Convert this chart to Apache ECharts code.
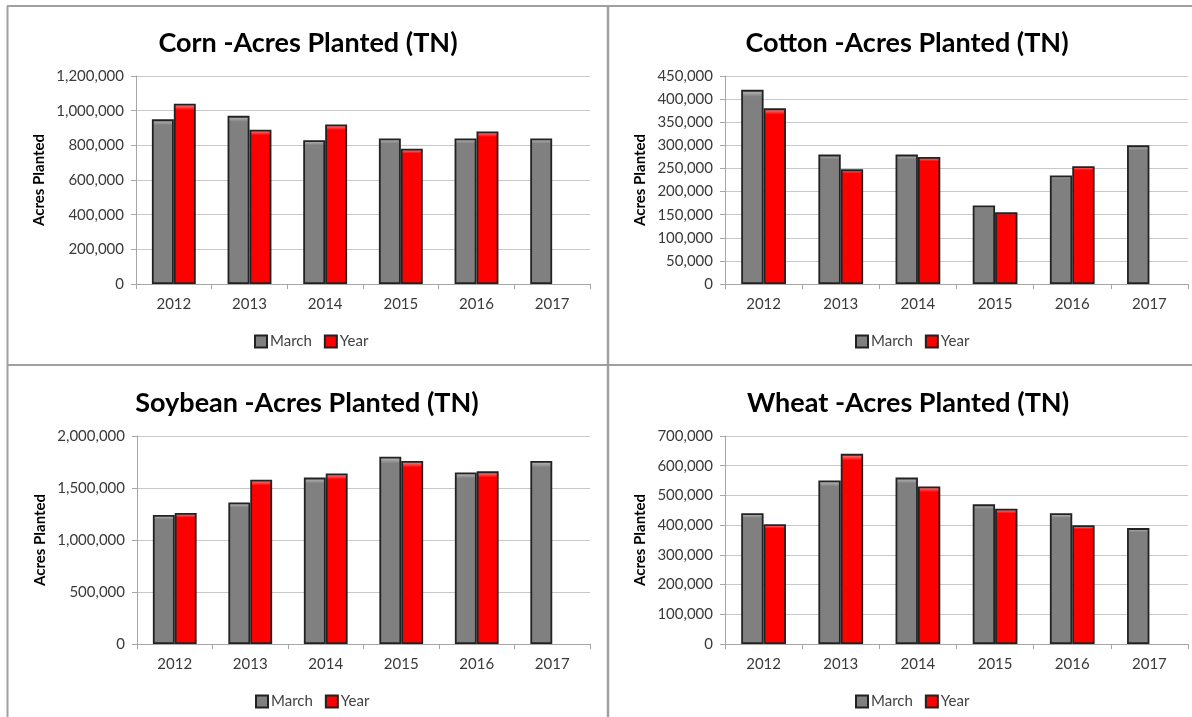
<!DOCTYPE html>
<html>
<head>
<meta charset="utf-8">
<style>
  html, body { margin: 0; padding: 0; background: #ffffff; }
  #chart { width: 1192px; height: 717px; }
</style>
<script src="https://cdn.jsdelivr.net/npm/echarts@6/dist/echarts.min.js"></script>
</head>
<body>
<div id="chart"></div>
<script>
const years = ['2012', '2013', '2014', '2015', '2016', '2017'];
const seriesNames = ['March', 'Year'];

const cornMarch = [950000, 970000, 830000, 840000, 840000, 840000];
const cornYear = [1040000, 890000, 920000, 780000, 880000, null];

const cottonMarch = [420000, 280000, 280000, 170000, 235000, 300000];
const cottonYear = [380000, 248000, 275000, 155000, 255000, null];

const soybeanMarch = [1240000, 1360000, 1600000, 1800000, 1650000, 1760000];
const soybeanYear = [1260000, 1580000, 1640000, 1760000, 1660000, null];

const wheatMarch = [440000, 550000, 560000, 470000, 440000, 390000];
const wheatYear = [403000, 640000, 530000, 455000, 400000, null];

const titles = ['Corn -Acres Planted (TN)', 'Cotton -Acres Planted (TN)', 'Soybean -Acres Planted (TN)', 'Wheat -Acres Planted (TN)'];
const yMax = [1200000, 450000, 2000000, 700000];
const yStep = [200000, 50000, 500000, 100000];
const yAxisName = 'Acres Planted';

const panels = [
  { march: cornMarch, year: cornYear },
  { march: cottonMarch, year: cottonYear },
  { march: soybeanMarch, year: soybeanYear },
  { march: wheatMarch, year: wheatYear }
];

const FONT = 'Lato';
const layout = [
  { grid: { left: 136, top: 76, width: 454, height: 208 }, cx: 303, titleTop: 25, legendLeft: 249, legendTop: 329, nameGap: 89 },
  { grid: { left: 725, top: 76, width: 463, height: 208 }, cx: 902, titleTop: 25, legendLeft: 850, legendTop: 329, nameGap: 77 },
  { grid: { left: 137, top: 436, width: 453, height: 208 }, cx: 302, titleTop: 385, legendLeft: 250, legendTop: 689, nameGap: 89 },
  { grid: { left: 725, top: 436, width: 463, height: 208 }, cx: 903, titleTop: 385, legendLeft: 850, legendTop: 689, nameGap: 77 }
];

function fmt(v) { return Number(v).toLocaleString('en-US'); }

function barStyle(base, light) {
  return {
    color: {
      type: 'linear', x: 0, y: 0, x2: 0, y2: 1,
      colorStops: [
        { offset: 0, color: light },
        { offset: 0.035, color: base },
        { offset: 1, color: base }
      ]
    },
    borderColor: '#222222',
    borderWidth: 1.8
  };
}

const option = {
  animation: false,
  backgroundColor: '#ffffff',
  title: [], legend: [], grid: [], xAxis: [], yAxis: [], series: [],
  graphic: [
    { type: 'line', shape: { x1: 7, y1: 6, x2: 1192, y2: 6 }, style: { stroke: '#a0a0a0', lineWidth: 2 } },
    { type: 'line', shape: { x1: 7, y1: 365, x2: 1192, y2: 365 }, style: { stroke: '#a0a0a0', lineWidth: 2 } },
    { type: 'line', shape: { x1: 7.5, y1: 6, x2: 7.5, y2: 717 }, style: { stroke: '#a0a0a0', lineWidth: 2 } },
    { type: 'line', shape: { x1: 608, y1: 6, x2: 608, y2: 717 }, style: { stroke: '#a0a0a0', lineWidth: 2.5 } }
  ]
};

layout.forEach((L, i) => {
  option.title.push({
    text: titles[i], left: L.cx, top: L.titleTop, textAlign: 'center',
    textStyle: { fontFamily: FONT, fontWeight: 'bold', fontSize: 27, color: '#000000' }
  });
  option.legend.push({
    data: seriesNames, left: L.legendLeft, top: L.legendTop,
    itemWidth: 12, itemHeight: 12, itemGap: 12, icon: 'rect',
    textStyle: { fontFamily: FONT, fontSize: 15, color: '#404040', padding: [0, 0, 0, -2] },
    selectedMode: false
  });
  option.grid.push(Object.assign({ containLabel: false }, L.grid));
  option.xAxis.push({
    type: 'category', gridIndex: i, data: years,
    axisLine: { lineStyle: { color: '#a6a6a6', width: 1 } },
    axisTick: { show: true, length: 5, lineStyle: { color: '#a6a6a6' } },
    axisLabel: { fontFamily: FONT, fontSize: 15, color: '#3a3a3a', margin: 13 }
  });
  option.yAxis.push({
    type: 'value', gridIndex: i, min: 0, max: yMax[i], interval: yStep[i],
    name: yAxisName, nameLocation: 'middle', nameGap: L.nameGap,
    nameTextStyle: { fontFamily: FONT, fontWeight: 'bold', fontSize: 15, color: '#000000' },
    axisLine: { show: true, lineStyle: { color: '#a6a6a6' } },
    axisTick: { show: true, length: 5, lineStyle: { color: '#a6a6a6' } },
    axisLabel: { fontFamily: FONT, fontSize: 15, color: '#3a3a3a', margin: 12, formatter: fmt },
    splitLine: { lineStyle: { color: '#c8c8c8', width: 1 } }
  });
  option.series.push({
    name: 'March', type: 'bar', xAxisIndex: i, yAxisIndex: i, data: panels[i].march,
    barGap: '0%', barCategoryGap: '42%',
    itemStyle: barStyle('#808080', '#c4c4c4')
  });
  option.series.push({
    name: 'Year', type: 'bar', xAxisIndex: i, yAxisIndex: i, data: panels[i].year,
    barGap: '0%', barCategoryGap: '42%',
    itemStyle: barStyle('#ff0000', '#ff9a9a')
  });
});

const chart = echarts.init(document.getElementById('chart'), null, { renderer: 'canvas' });
chart.setOption(option);
</script>
</body>
</html>
